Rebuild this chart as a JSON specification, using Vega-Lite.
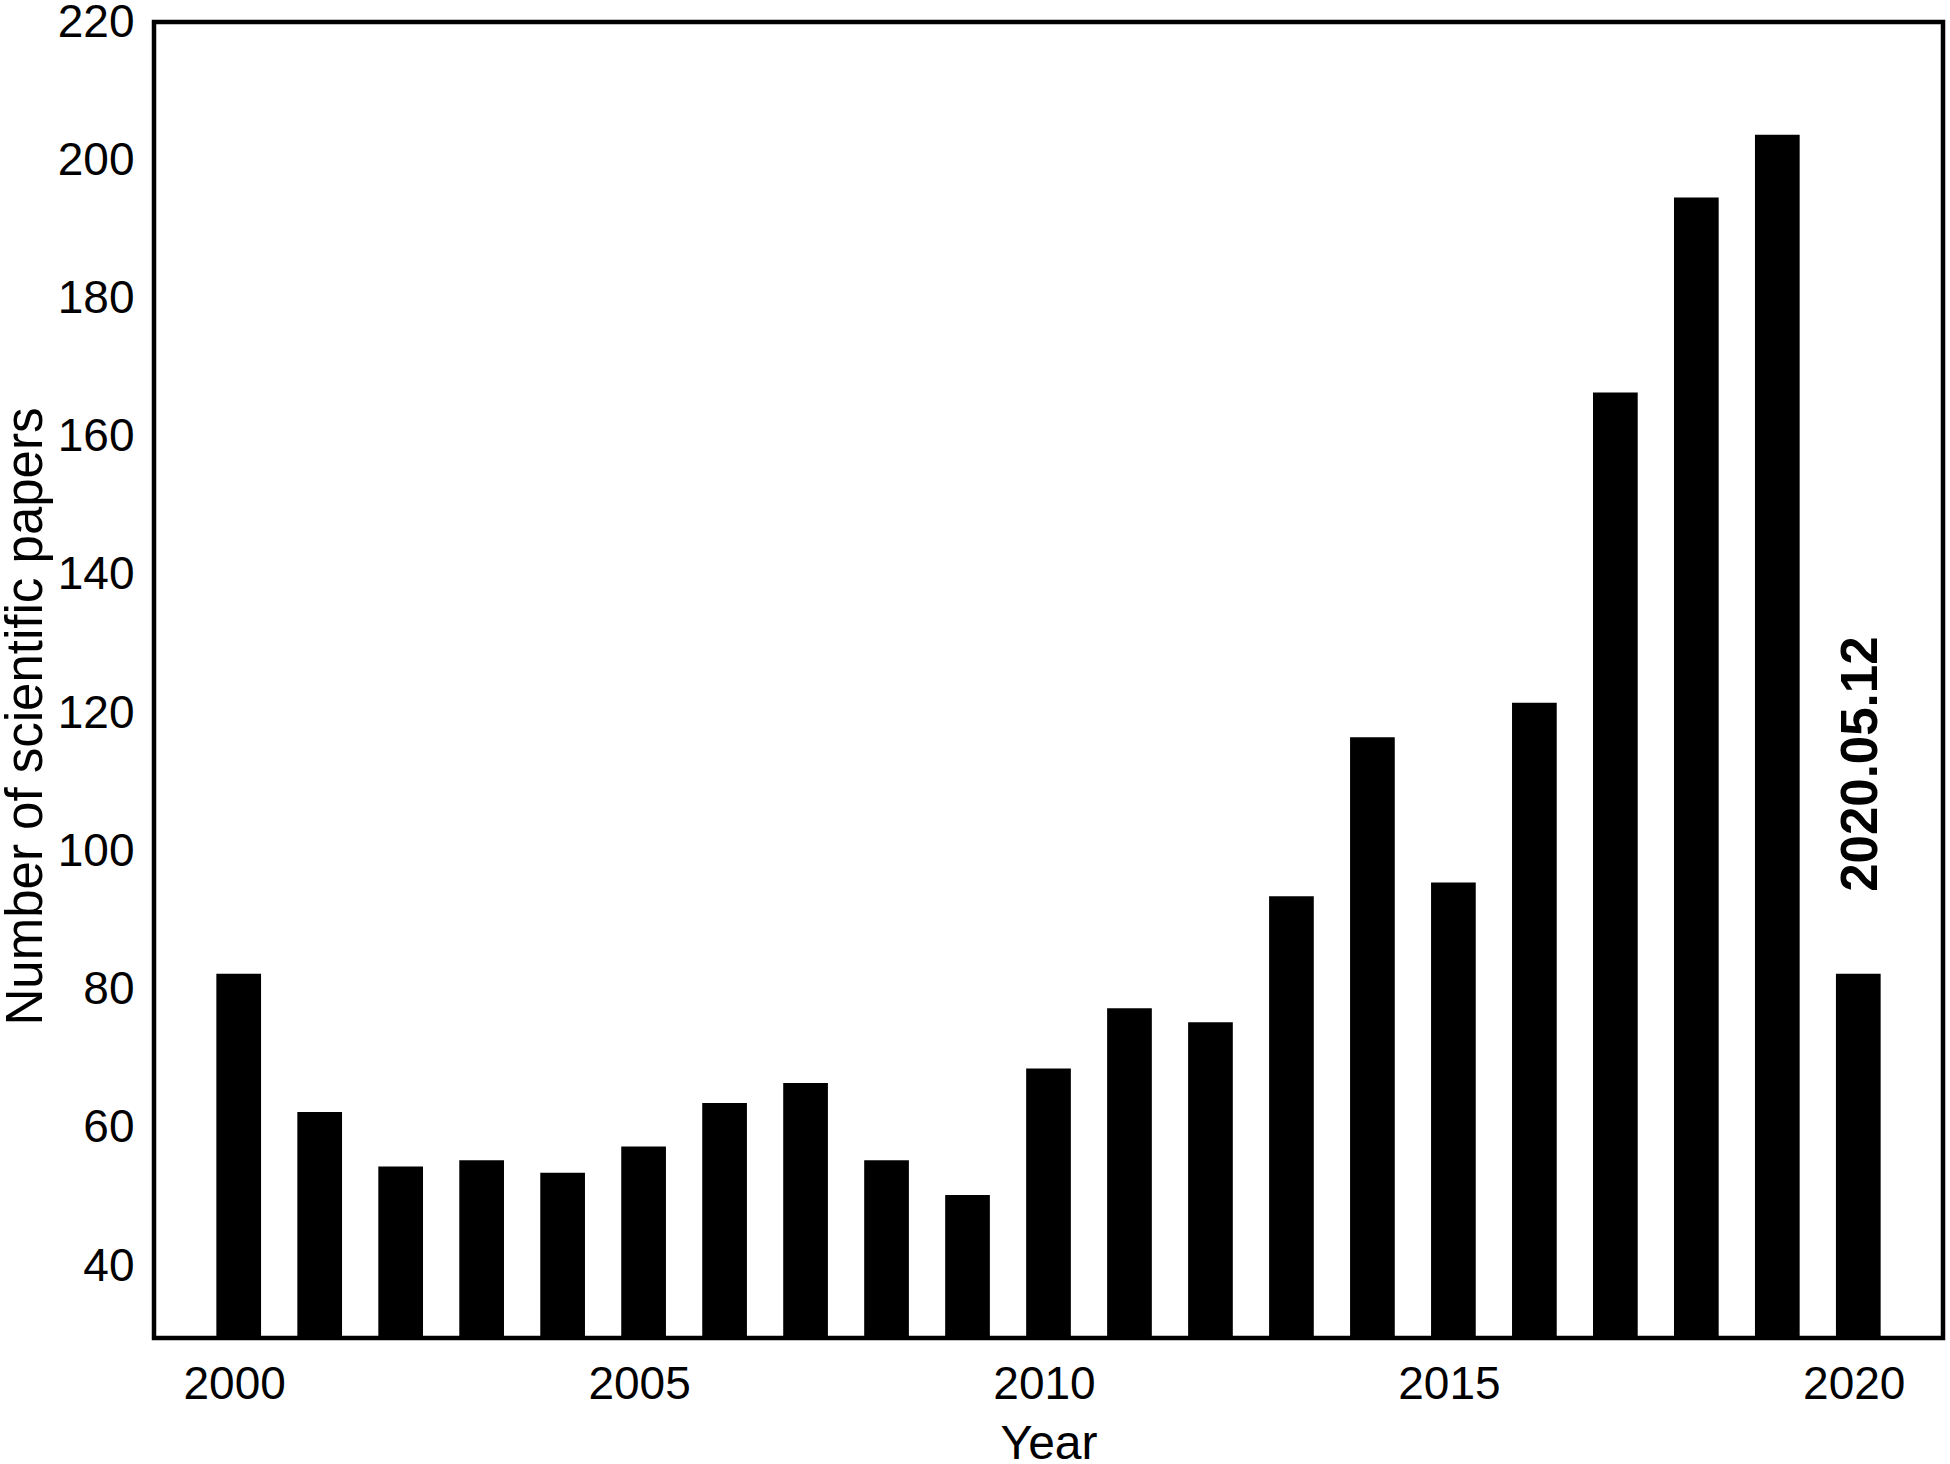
{
  "$schema": "https://vega.github.io/schema/vega-lite/v6.json",
  "autosize": {"type": "none"},
  "width": 1789,
  "height": 1316,
  "padding": {"left": 154, "top": 22, "right": 7, "bottom": 126},
  "background": "white",
  "config": {
    "font": "Liberation Sans",
    "view": {"stroke": "black", "strokeWidth": 4.5},
    "axis": {"grid": false, "ticks": false, "domain": false, "labelColor": "black", "titleColor": "black", "labelFont": "Liberation Sans", "titleFont": "Liberation Sans", "labelFontWeight": "normal", "titleFontWeight": "normal"}
  },
  "data": {
    "values": [
      {"year": 2000, "papers": 82.3},
      {"year": 2001, "papers": 62.3},
      {"year": 2002, "papers": 54.4},
      {"year": 2003, "papers": 55.3},
      {"year": 2004, "papers": 53.5},
      {"year": 2005, "papers": 57.3},
      {"year": 2006, "papers": 63.6},
      {"year": 2007, "papers": 66.5},
      {"year": 2008, "papers": 55.3},
      {"year": 2009, "papers": 50.3},
      {"year": 2010, "papers": 68.6},
      {"year": 2011, "papers": 77.3},
      {"year": 2012, "papers": 75.3},
      {"year": 2013, "papers": 93.5},
      {"year": 2014, "papers": 116.5},
      {"year": 2015, "papers": 95.5},
      {"year": 2016, "papers": 121.5},
      {"year": 2017, "papers": 166.4},
      {"year": 2018, "papers": 194.6},
      {"year": 2019, "papers": 203.7},
      {"year": 2020, "papers": 82.3, "note": "2020.05.12"}
    ]
  },
  "encoding": {
    "x": {
      "field": "year",
      "type": "ordinal",
      "scale": {"paddingInner": 0.448, "paddingOuter": 0.77},
      "axis": {
        "values": [2000, 2005, 2010, 2015, 2020],
        "labelAngle": 0,
        "labelFontSize": 46,
        "labelPadding": 24,
        "labelOffset": -4,
        "title": "Year",
        "titleFontSize": 48,
        "titleBaseline": "alphabetic",
        "titleY": 120
      }
    },
    "y": {
      "field": "papers",
      "type": "quantitative",
      "scale": {"domain": [29.6, 220], "nice": false, "zero": false},
      "axis": {
        "values": [40, 60, 80, 100, 120, 140, 160, 180, 200, 220],
        "labelFontSize": 46,
        "labelPadding": 20,
        "title": "Number of scientific papers",
        "titleFontSize": 51,
        "titleBaseline": "alphabetic",
        "titleX": -113,
        "titleY": 694
      }
    }
  },
  "layer": [
    {"mark": {"type": "bar", "color": "black", "clip": true}},
    {
      "transform": [{"filter": "datum.note != null"}],
      "mark": {"type": "text", "angle": 270, "align": "left", "baseline": "middle", "dx": 82, "dy": 4, "fontSize": 51, "fontWeight": "bold", "color": "black", "font": "Liberation Sans"},
      "encoding": {"text": {"field": "note"}}
    }
  ]
}
